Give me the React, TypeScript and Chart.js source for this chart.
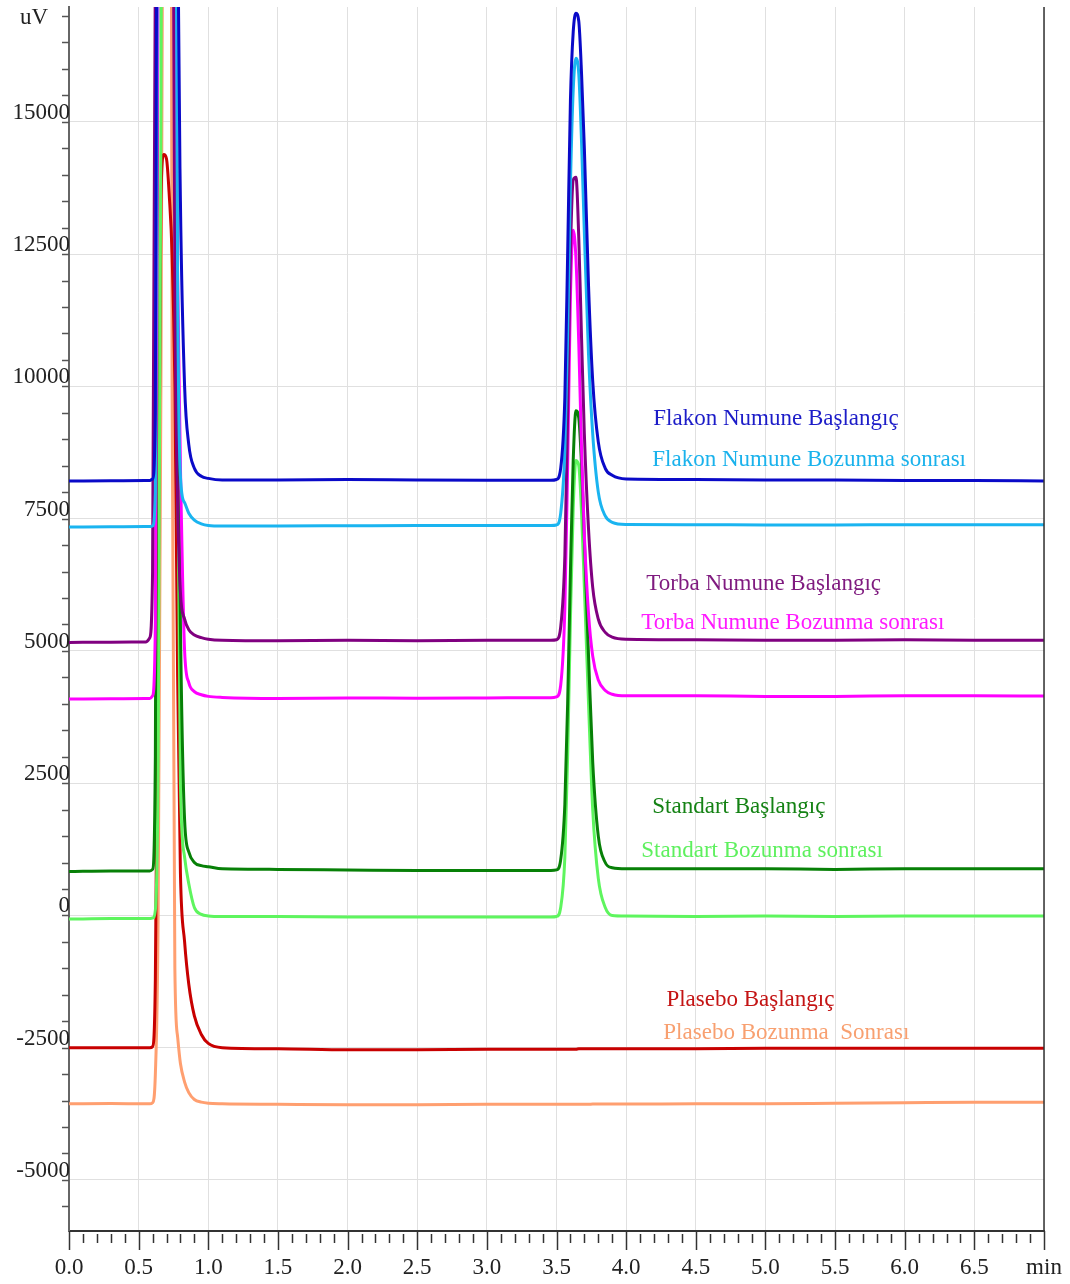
import React, { useEffect, useRef } from 'react';
import { Chart, registerables } from 'chart.js';

Chart.register(...registerables);

// Retention time grid (min)
const times = [
  0, 0.3,
  0.55, 0.58, 0.6, 0.62, 0.64, 0.66, 0.68, 0.7, 0.72, 0.74, 0.76, 0.78, 0.8, 0.83, 0.86, 0.9, 0.95, 1.0, 1.1,
  1.5, 2.0, 2.5, 3.0, 3.4,
  3.46, 3.5, 3.53, 3.56, 3.58, 3.6, 3.62, 3.64, 3.66, 3.68, 3.7, 3.73, 3.76, 3.8, 3.85, 3.9, 4.0,
  4.5, 5.0, 5.5, 6.0, 6.5, 7.0,
];

// Detector signal (uV) for each trace
const flakonBaslangic = [
  8210, 8215,
  8220, 8220, 8250, 9500, 30000, 50000, 60000, 62000, 58000, 48000, 34000, 19000, 13500, 10000, 8900, 8450, 8300, 8260, 8230,
  8230, 8240, 8230, 8225, 8225,
  8225, 8240, 8450, 9800, 12500, 15400, 16700, 17050, 16900, 15900, 14500, 11900, 10100, 8950, 8450, 8320, 8250,
  8240, 8230, 8230, 8220, 8220, 8210,
];
const flakonBozunma = [
  7340, 7345,
  7350, 7350, 7360, 8000, 25000, 45000, 55000, 56000, 50000, 40000, 26000, 12000, 8300, 7800, 7600, 7470, 7400, 7370, 7360,
  7360, 7365, 7370, 7370, 7370,
  7370, 7380, 7600, 8800, 11000, 13800, 15600, 16200, 15900, 14600, 12900, 10600, 9100, 8000, 7550, 7430, 7390,
  7385, 7380, 7380, 7385, 7385, 7385,
];
const torbaBaslangic = [
  5160, 5165,
  5170, 5250, 6500, 18000, 40000, 55000, 58000, 52000, 40000, 25000, 12000, 7800, 6100, 5600, 5400, 5300, 5250, 5220, 5200,
  5190, 5200, 5190, 5200, 5200,
  5200, 5210, 5450, 6800, 9500, 12500, 13900, 13950, 12800, 10900, 9100, 7300, 6200, 5600, 5350, 5260, 5220,
  5210, 5200, 5200, 5210, 5200, 5200,
];
const torbaBozunma = [
  4090, 4095,
  4100, 4100, 4150, 5500, 20000, 40000, 55000, 60000, 52000, 32000, 17000, 12000, 8500, 5000, 4400, 4230, 4170, 4140, 4120,
  4100, 4110, 4105, 4110, 4115,
  4115, 4130, 4350, 5800, 8500, 11700, 12950, 12400, 10800, 8800, 7200, 5700, 4900, 4450, 4250, 4180, 4150,
  4150, 4140, 4140, 4150, 4150, 4145,
];
const standartBaslangic = [
  830, 840,
  840, 840, 870, 3000, 20000, 40000, 55000, 60000, 55000, 38000, 20000, 11000, 5500, 1800, 1200, 1000, 940, 920, 880,
  870, 860, 850, 850, 850,
  850, 860, 1050, 2100, 4000, 6500, 8600, 9540, 9400, 8500, 7100, 4900, 2900, 1500, 1000, 900, 880,
  880, 880, 870, 880, 880, 880,
];
const standartBozunma = [
  -70, -60,
  -60, -60, -50, 100, 3000, 15000, 35000, 50000, 50000, 40000, 25000, 9000, 2500, 1100, 600, 150, 20, -10, -20,
  -20, -30, -30, -30, -30,
  -30, -20, 150, 1100, 3000, 5600, 7700, 8600, 8500, 7600, 6200, 4000, 2000, 700, 150, 0, -10,
  -20, -10, -20, -10, -10, -10,
];
const plaseboBaslangic = [
  -2500, -2500,
  -2500, -2500, -2480, -1200, 5500, 13500, 14380, 14300, 13600, 12500, 10000, 4500, 800, -500, -1300, -1900, -2250, -2420, -2500,
  -2520, -2540, -2540, -2530, -2530,
  -2530, -2530, -2530, -2530, -2530, -2530, -2530, -2530, -2520, -2520, -2520, -2520, -2520, -2520, -2520, -2520, -2520,
  -2520, -2510, -2510, -2510, -2510, -2510,
];
const plaseboBozunma = [
  -3560, -3555,
  -3560, -3560, -3540, -3000, 0, 10000, 25000, 40000, 42000, 10000, -1000, -2300, -2800, -3150, -3350, -3480, -3530, -3550, -3560,
  -3570, -3580, -3580, -3570, -3570,
  -3570, -3570, -3570, -3570, -3570, -3570, -3570, -3570, -3570, -3570, -3570, -3570, -3565, -3565, -3565, -3565, -3565,
  -3560, -3560, -3550, -3540, -3530, -3530,
];

const seriesNames = [
  'Flakon Numune Başlangıç',
  'Flakon Numune Bozunma sonrası',
  'Torba Numune Başlangıç',
  'Torba Numune Bozunma sonrası',
  'Standart Başlangıç',
  'Standart Bozunma sonrası',
  'Plasebo Başlangıç',
  'Plasebo Bozunma  Sonrası',
];
const seriesValues = [
  flakonBaslangic, flakonBozunma, torbaBaslangic, torbaBozunma,
  standartBaslangic, standartBozunma, plaseboBaslangic, plaseboBozunma,
];
const lineColors = ['#0a0ac8', '#1ab4f0', '#800080', '#ff00ff', '#078007', '#5ef55e', '#c80000', '#ff9f70'];
const textColors = ['#1c1cc8', '#1ab2ec', '#7f1a7f', '#ff1aff', '#148214', '#5ef05e', '#c41414', '#f8a070'];

// Annotation anchors (time, signal) for each trace name
const labelTimes = [4.195, 4.188, 4.145, 4.109, 4.188, 4.109, 4.289, 4.267];
const labelValues = [9263, 8488, 6144, 5406, 1928, 1096, -1720, -2344];

// Axis ticks
const xTicks = [0, 0.5, 1.0, 1.5, 2.0, 2.5, 3.0, 3.5, 4.0, 4.5, 5.0, 5.5, 6.0, 6.5, 7.0];
const yTicks = [-5000, -2500, 0, 2500, 5000, 7500, 10000, 12500, 15000];

const xMin = 0;
const xMax = 7;
const yMin = -5965;
const yMax = 17170;
const yUnit = 'uV';
const xUnit = 'min';

const FONT = "'Liberation Serif', 'Times New Roman', serif";

const overlayPlugin = {
  id: 'overlay',
  afterDraw(chart: any) {
    const { ctx, chartArea, scales } = chart;
    const xs = scales.x;
    const ys = scales.y;
    ctx.save();
    // y minor ticks
    ctx.strokeStyle = '#555';
    ctx.lineWidth = 1.5;
    for (let v = -5500; v <= yMax; v += 500) {
      const py = Math.round(ys.getPixelForValue(v)) + 0.5;
      ctx.beginPath();
      ctx.moveTo(chartArea.left - 7, py);
      ctx.lineTo(chartArea.left, py);
      ctx.stroke();
    }
    // x ticks
    ctx.strokeStyle = '#333';
    for (let i = 0; i <= 70; i++) {
      const t = i / 10;
      const px = Math.round(xs.getPixelForValue(t)) + 0.5;
      const major = i % 5 === 0;
      ctx.beginPath();
      ctx.moveTo(px, chartArea.bottom + (major ? 0 : 3));
      ctx.lineTo(px, chartArea.bottom + (major ? 19 : 12));
      ctx.stroke();
    }
    // right border
    ctx.strokeStyle = '#333';
    ctx.lineWidth = 1.5;
    ctx.beginPath();
    ctx.moveTo(chartArea.right, chartArea.top);
    ctx.lineTo(chartArea.right, chartArea.bottom);
    ctx.stroke();
    // unit label
    ctx.fillStyle = '#222';
    ctx.font = `23px ${FONT}`;
    ctx.textAlign = 'center';
    ctx.textBaseline = 'middle';
    ctx.fillText(yUnit, 34, 18);
    // trace names
    ctx.textAlign = 'left';
    ctx.textBaseline = 'alphabetic';
    seriesNames.forEach((name, i) => {
      ctx.fillStyle = textColors[i];
      ctx.fillText(name, xs.getPixelForValue(labelTimes[i]), ys.getPixelForValue(labelValues[i]));
    });
    ctx.restore();
  },
};

export default function App() {
  const ref = useRef<HTMLCanvasElement | null>(null);
  useEffect(() => {
    if (!ref.current) return;
    const chart = new Chart(ref.current, {
      type: 'line',
      data: {
        datasets: seriesValues.map((vals, i) => ({
          label: seriesNames[i],
          data: times.map((t, j) => ({ x: t, y: vals[j] })),
          borderColor: lineColors[i],
          backgroundColor: lineColors[i],
          borderWidth: 3,
          pointRadius: 0,
          fill: false,
          cubicInterpolationMode: 'monotone' as const,
        })),
      },
      options: {
        animation: false,
        responsive: false,
        layout: { padding: { top: 7, right: 26, left: 0, bottom: 0 } },
        plugins: { legend: { display: false }, tooltip: { enabled: false } },
        scales: {
          x: {
            type: 'linear',
            min: xMin,
            max: xMax,
            afterBuildTicks: (s: any) => { s.ticks = xTicks.map((v) => ({ value: v })); },
            afterFit: (s: any) => { s.height = 53; s.paddingLeft = 0; s.paddingRight = 0; },
            ticks: {
              autoSkip: false,
              maxRotation: 0,
              padding: 23,
              color: '#222',
              font: { family: FONT, size: 23 },
              callback: (v: any) => (Number(v) === xMax ? xUnit : Number(v).toFixed(1)),
            },
            grid: { color: '#e0e0e0', lineWidth: 1, drawTicks: false },
            border: { display: true, color: '#333', width: 2 },
          },
          y: {
            type: 'linear',
            min: yMin,
            max: yMax,
            afterBuildTicks: (s: any) => { s.ticks = yTicks.map((v) => ({ value: v })); },
            afterFit: (s: any) => { s.width = 69; s.paddingTop = 0; s.paddingBottom = 0; },
            ticks: {
              autoSkip: false,
              padding: -1,
              labelOffset: -9,
              color: '#222',
              font: { family: FONT, size: 23 },
              callback: (v: any) => String(v),
            },
            grid: { color: '#e0e0e0', lineWidth: 1, drawTicks: false },
            border: { display: true, color: '#666', width: 2 },
          },
        },
      },
      plugins: [overlayPlugin],
    } as any);
    return () => chart.destroy();
  }, []);
  return (
    <div style={{ position: 'absolute', left: 0, top: 0, width: 1070, height: 1284, background: '#fff' }}>
      <canvas ref={ref} width={1070} height={1284} />
    </div>
  );
}
